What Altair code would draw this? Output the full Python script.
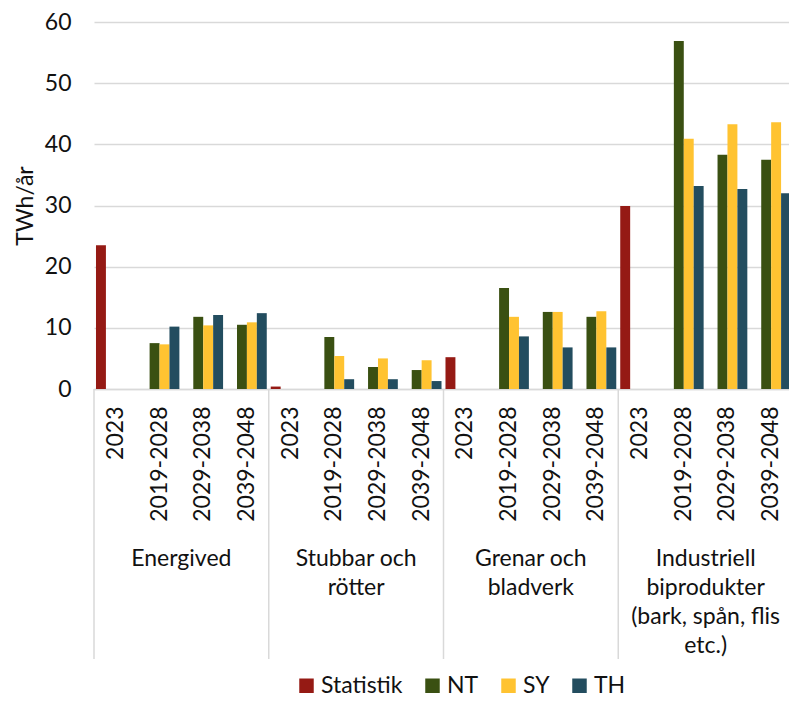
import altair as alt
import pandas as pd

# ---- data ----
groups = ["Energived", "Stubbar och rötter", "Grenar och bladverk",
          "Industriell biprodukter (bark, spån, flis etc.)"]
group_lines = ["Energived", "Stubbar och|rötter", "Grenar och|bladverk",
               "Industriell|biprodukter|(bark, spån, flis|etc.)"]
periods = ["2023", "2019-2028", "2029-2038", "2039-2048"]
series = ["Statistik", "NT", "SY", "TH"]
colors = ["#951A14", "#3A5012", "#FFC331", "#234D5F"]

statistik = [23.5, 0.4, 5.2, 29.9]          # only 2023
nt = [[7.5, 11.8, 10.5], [8.5, 3.6, 3.1], [16.5, 12.6, 11.8], [56.9, 38.3, 37.5]]
sy = [[7.3, 10.4, 10.9], [5.4, 5.0, 4.7], [11.8, 12.6, 12.7], [40.9, 43.3, 43.6]]
th = [[10.2, 12.1, 12.4], [1.6, 1.6, 1.3], [8.6, 6.8, 6.8], [33.2, 32.7, 32.0]]

# ---- tables ----
keys = [f"{gi}|{p}" for gi in range(len(groups)) for p in periods]
rows = []
for gi in range(len(groups)):
    rows.append({"key": f"{gi}|{periods[0]}", "series": "Statistik", "value": statistik[gi]})
    for pi, p in enumerate(periods[1:]):
        for s, arr in (("NT", nt), ("SY", sy), ("TH", th)):
            rows.append({"key": f"{gi}|{p}", "series": s, "value": arr[gi][pi]})
bars_df = pd.DataFrame(rows)

sep_df = pd.DataFrame({"key": [f"{gi}|{periods[0]}" for gi in range(len(groups))]})
lab_df = pd.DataFrame({"key": [f"{gi}|{periods[2]}" for gi in range(len(groups))],
                       "label": group_lines})

FONT = "Lato"
W, H = 695, 367          # visible plot area; x range runs a little past the right edge (clipped, as in the original)
XRANGE = 699
xscale = alt.Scale(domain=keys, range=[0, XRANGE], paddingInner=0, paddingOuter=0)

bars = alt.Chart(bars_df).mark_bar().encode(
    x=alt.X("key:N", scale=xscale, sort=keys,
            axis=alt.Axis(title=None, labelAngle=270, labelExpr="split(datum.label, '|')[1]",
                          ticks=False, domain=True, domainColor="#d9d9d9", domainWidth=1.5,
                          labelFont=FONT, labelFontSize=23, labelColor="#111111",
                          labelPadding=17, grid=False)),
    xOffset=alt.XOffset("series:N", sort=series,
                        scale=alt.Scale(domain=series, paddingInner=0, paddingOuter=0.2)),
    y=alt.Y("value:Q", scale=alt.Scale(domain=[0, 60], nice=False),
            axis=alt.Axis(title="TWh/år", values=[0, 10, 20, 30, 40, 50, 60],
                          domain=False, ticks=False, grid=True, gridColor="#d9d9d9",
                          gridWidth=1.5, labelFont=FONT, labelFontSize=23,
                          labelColor="#111111", labelPadding=23, titleFont=FONT,
                          titleFontSize=23, titleFontWeight="normal", titleColor="#111111",
                          titlePadding=7)),
    color=alt.Color("series:N", sort=series,
                    scale=alt.Scale(domain=series, range=colors),
                    legend=alt.Legend(title=None, orient="none", direction="horizontal",
                                      legendX=201, legendY=652, symbolType="square",
                                      symbolSize=210, symbolStrokeWidth=0,
                                      labelFont=FONT, labelFontSize=23,
                                      labelColor="#111111", labelOffset=3,
                                      columnPadding=18, padding=0)),
)

seps = alt.Chart(sep_df).mark_rule(color="#d9d9d9", strokeWidth=1.5).encode(
    x=alt.X("key:N", scale=xscale, sort=keys, bandPosition=0),
    y=alt.value(H),
    y2=alt.value(H + 270),
)

glabels = alt.Chart(lab_df).mark_text(
    lineBreak="|", font=FONT, fontSize=23, color="#111111",
    align="center", baseline="alphabetic", lineHeight=29,
).encode(
    x=alt.X("key:N", scale=xscale, sort=keys, bandPosition=0),
    y=alt.value(H + 177),
    text="label:N",
)

chart = alt.layer(bars, seps, glabels).properties(
    width=W, height=H,
    autosize=alt.AutoSizeParams(type="none"),
    padding={"left": 86, "top": 14, "right": 0, "bottom": 308},
).configure_view(stroke=None)

chart.save("out.html", embed_options={"renderer": "svg", "actions": False})
